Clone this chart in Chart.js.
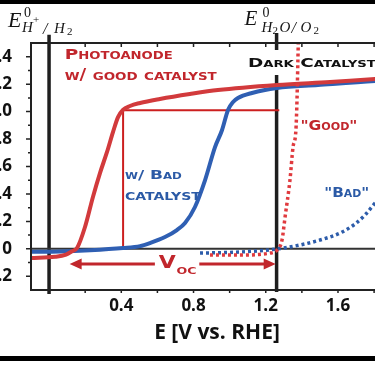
<!DOCTYPE html>
<html><head><meta charset="utf-8">
<script src="https://cdn.jsdelivr.net/npm/chart.js@4.4.1/dist/chart.umd.min.js"></script>
<style>
html,body{margin:0;padding:0;background:#fff;overflow:hidden}
#wrap{position:relative;width:375px;height:366px;overflow:hidden;background:#fff}
canvas{display:block}
</style>
</head><body>
<div id="wrap"><canvas id="c" width="403" height="366"></canvas></div>
<script>
// ---------- data ----------
const xTickValues = [0.4, 0.8, 1.2, 1.6];
const xTickLabels = ['0.4', '0.8', '1.2', '1.6'];
const yTickValues = [-0.2, 0, 0.2, 0.4, 0.6, 0.8, 1.0, 1.2, 1.4];
const yTickLabels = ['-0.2', '0', '0.2', '0.4', '0.6', '0.8', '1.0', '1.2', '1.4'];
const xTitle = 'E [V vs. RHE]';

// photoanode with good catalyst (red solid)
const goodX = [-0.100, 0.033, 0.094, 0.127, 0.155, 0.199, 0.243, 0.282, 0.321, 0.354, 0.382, 0.409, 0.448, 0.504, 0.614, 0.780, 0.935, 1.262, 1.556, 1.805, 1.960];
const goodY = [-0.067, -0.058, -0.042, -0.018, 0.006, 0.159, 0.378, 0.552, 0.706, 0.851, 0.960, 1.012, 1.041, 1.063, 1.092, 1.128, 1.157, 1.194, 1.216, 1.237, 1.247];
// photoanode with bad catalyst (blue solid)
const badX = [-0.100, 0.061, 0.227, 0.409, 0.504, 0.558, 0.642, 0.708, 0.753, 0.808, 0.864, 0.919, 0.958, 0.991, 1.019, 1.046, 1.124, 1.262, 1.489, 1.805, 1.960];
const badY = [-0.021, -0.019, -0.010, 0.006, 0.020, 0.042, 0.086, 0.137, 0.188, 0.305, 0.501, 0.741, 0.866, 1.012, 1.070, 1.099, 1.136, 1.172, 1.194, 1.223, 1.233];
// dark catalyst "Good" (red dotted)
const darkGoodX = [0.891, 1.057, 1.224, 1.268, 1.290, 1.307, 1.334, 1.351, 1.367, 1.373, 1.378, 1.381];
const darkGoodY = [-0.045, -0.045, -0.031, -0.001, 0.064, 0.232, 0.501, 0.741, 0.866, 1.084, 1.376, 1.550];
// dark catalyst "Bad" (blue dotted)
const darkBadX = [0.836, 1.057, 1.262, 1.390, 1.500, 1.611, 1.694, 1.749, 1.805, 1.888, 1.960];
const darkBadY = [-0.031, -0.023, -0.001, 0.028, 0.064, 0.115, 0.181, 0.246, 0.334, 0.470, 0.620];
// 1 mA/cm2 guide (thin red rectangle corner)
const guideX = [0.41, 0.41, 1.275];
const guideY = [0.0, 1.01, 1.01];
// reference potentials (thick black lines)
const eH2X = [0, 0];
const eH2Y = [-0.33, 1.56];
const eO2X = [1.26, 1.26, 1.26, 1.26, 1.26];
const eO2Y = [1.573, 1.449, null, 1.267, -0.315];
// zero-current line
const zeroX = [-0.1, 1.96];
const zeroY = [0, 0];

// annotation texts
const noteTexts = ['Photoanode', 'w/ good catalyst', 'Dark Catalyst', 'w/ Bad', 'catalyst', '"Good"', '"Bad"'];
const vocMain = 'V';
const vocSub = 'OC';

// ---------- helpers ----------
const pts = (xs, ys) => xs.map((x, i) => ({x: x, y: ys[i]}));
const RED_TXT = '#c1262c', BLUE_TXT = '#2b5aa6';
const SC_FAMILY = "'DejaVu Sans', 'Open Sans', sans-serif";
const SERIF = "'Liberation Serif', 'DejaVu Serif', serif";

function scText(ctx, str, x, yb, size, color, targetW) {
  ctx.save();
  ctx.font = 'small-caps bold ' + size + 'px ' + SC_FAMILY;
  try { ctx.fontVariantCaps = 'small-caps'; } catch (e) {}
  ctx.fillStyle = color; ctx.textAlign = 'left'; ctx.textBaseline = 'alphabetic';
  const w = ctx.measureText(str).width;
  const sx = targetW ? targetW / w : 1;
  ctx.translate(x, yb); ctx.scale(sx, 1);
  ctx.fillText(str, 0, 0);
  ctx.restore();
}
function plainText(ctx, str, x, yb, font, color, targetW) {
  ctx.save();
  ctx.font = font; ctx.fillStyle = color; ctx.textAlign = 'left'; ctx.textBaseline = 'alphabetic';
  const w = ctx.measureText(str).width;
  const sx = targetW ? targetW / w : 1;
  ctx.translate(x, yb); ctx.scale(sx, 1);
  ctx.fillText(str, 0, 0);
  ctx.restore();
}

const decor = {
  id: 'decor',
  afterDatasetsDraw(chart) {
    const {ctx, chartArea: a, scales: {x, y}} = chart;
    const X = v => x.getPixelForValue(v), Y = v => y.getPixelForValue(v);
    ctx.save();
    // frame
    ctx.strokeStyle = '#222'; ctx.lineWidth = 2;
    ctx.beginPath();
    ctx.moveTo(a.right + 2, a.top); ctx.lineTo(a.left, a.top); ctx.lineTo(a.left, a.bottom); ctx.lineTo(a.right + 2, a.bottom);
    ctx.stroke();
    // tick marks
    ctx.lineWidth = 1.5;
    ctx.beginPath();
    for (let k = -2; k <= 14; k++) {
      const v = k / 10, py = Y(v);
      const len = (k % 2 === 0) ? 5 : 3;
      ctx.moveTo(a.left, py); ctx.lineTo(a.left - len, py);
    }
    for (let k = 1; k <= 9; k++) {
      const px = X(k * 0.2);
      ctx.moveTo(px, a.top); ctx.lineTo(px, a.top + 4);
      ctx.moveTo(px, a.bottom); ctx.lineTo(px, a.bottom + 3);
    }
    ctx.stroke();
    ctx.restore();

    // annotation texts
    scText(ctx, noteTexts[0], X(0.087), Y(1.383), 14, RED_TXT, 108);
    scText(ctx, noteTexts[1], X(0.087), Y(1.230), 15, RED_TXT, 152);
    scText(ctx, noteTexts[2], X(1.101), Y(1.325), 12.5, '#111', 128);
    scText(ctx, noteTexts[3], X(0.42), Y(0.509), 13, BLUE_TXT, 57);
    scText(ctx, noteTexts[4], X(0.42), Y(0.356), 15, BLUE_TXT, 76);
    scText(ctx, noteTexts[5], X(1.392), Y(0.866), 14, RED_TXT, 57);
    scText(ctx, noteTexts[6], X(1.524), Y(0.378), 14, BLUE_TXT, 45);

    // V_OC arrow
    const ay = Y(-0.111);
    const xl = X(0.114), xr = X(1.255), g1 = X(0.586), g2 = X(0.832);
    ctx.save();
    ctx.strokeStyle = RED_TXT; ctx.fillStyle = RED_TXT; ctx.lineWidth = 3;
    ctx.beginPath();
    ctx.moveTo(xl + 8, ay); ctx.lineTo(g1, ay);
    ctx.moveTo(g2, ay); ctx.lineTo(xr - 8, ay);
    ctx.stroke();
    ctx.beginPath();
    ctx.moveTo(xl, ay); ctx.lineTo(xl + 12, ay - 5.5); ctx.lineTo(xl + 12, ay + 5.5); ctx.closePath();
    ctx.moveTo(xr, ay); ctx.lineTo(xr - 12, ay - 5.5); ctx.lineTo(xr - 12, ay + 5.5); ctx.closePath();
    ctx.fill();
    ctx.restore();
    plainText(ctx, vocMain, X(0.608), Y(-0.140), 'bold 18px ' + SC_FAMILY, RED_TXT, 17);
    plainText(ctx, vocSub, X(0.706), Y(-0.184), 'bold 9.5px ' + SC_FAMILY, RED_TXT, 20);

    // reference potential labels (above the frame)
    const p0 = X(0), p1 = X(1.26);
    const it = s => 'italic ' + s + 'px ' + SERIF, up = s => s + 'px ' + SERIF;
    const ink = '#151515';
    plainText(ctx, 'E', p0 - 41, 27, it(22), ink);
    plainText(ctx, '0', p0 - 25, 17, up(14), ink);
    plainText(ctx, 'H', p0 - 27, 32, it(15), ink);
    plainText(ctx, '+', p0 - 16, 23, up(11), ink);
    plainText(ctx, '/', p0 - 6, 34, it(16), ink);
    plainText(ctx, 'H', p0 + 5, 33, it(15), ink);
    plainText(ctx, '2', p0 + 18, 35, up(11), ink);

    plainText(ctx, 'E', p1 - 32, 25, it(21), ink);
    plainText(ctx, '0', p1 - 14, 17, up(14), ink);
    plainText(ctx, 'H', p1 - 15, 32, it(15), ink);
    plainText(ctx, '2', p1 - 4, 34, up(11), ink);
    plainText(ctx, 'O', p1 + 3, 32, it(15), ink);
    plainText(ctx, '/', p1 + 15, 33, it(16), ink);
    plainText(ctx, 'O', p1 + 24, 32, it(15), ink);
    plainText(ctx, '2', p1 + 37, 34, up(11), ink);

    // slide frame bars
    ctx.save();
    ctx.fillStyle = '#000';
    ctx.fillRect(0, 0, chart.width, 4);
    ctx.fillRect(0, 356, chart.width, 5);
    ctx.restore();
  }
};

const lineDs = (label, xs, ys, color, width, extra) => Object.assign({
  label: label, data: pts(xs, ys), borderColor: color, backgroundColor: color,
  borderWidth: width, pointRadius: 0, fill: false, cubicInterpolationMode: 'monotone'
}, extra || {});

const tickFont = {family: "'Open Sans', 'Liberation Sans', sans-serif", weight: 'bold', size: 17};

new Chart(document.getElementById('c'), {
  type: 'line',
  data: {
    datasets: [
      lineDs('Dark "Good"', darkGoodX, darkGoodY, '#e03a3e', 3.5, {borderDash: [3, 3]}),
      lineDs('Dark "Bad"', darkBadX, darkBadY, '#2d5caa', 3.5, {borderDash: [3, 3]}),
      lineDs('Photoanode w/ good catalyst', goodX, goodY, '#d23a3c', 4),
      lineDs('w/ bad catalyst', badX, badY, '#2f5fb3', 4),
      lineDs('guide', guideX, guideY, '#cc1f1f', 2, {cubicInterpolationMode: 'default', tension: 0}),
      lineDs('zero', zeroX, zeroY, '#333', 2, {tension: 0}),
      lineDs('E H+/H2', eH2X, eH2Y, '#1e1e1e', 3.5, {tension: 0, clip: false}),
      lineDs('E H2O/O2', eO2X, eO2Y, '#1e1e1e', 3.5, {tension: 0, clip: false, spanGaps: false})
    ]
  },
  options: {
    responsive: false, animation: false, events: [],
    layout: {padding: {left: 0, right: 0, top: 43, bottom: 0}},
    plugins: {legend: {display: false}, tooltip: {enabled: false}},
    scales: {
      x: {
        type: 'linear', position: 'bottom', min: -0.1, max: 1.96,
        grid: {display: false, drawTicks: false}, border: {display: false},
        afterBuildTicks: s => { s.ticks = xTickValues.map(v => ({value: v})); },
        afterFit: s => { s.height = 76; },
        ticks: {font: tickFont, color: '#111', padding: 6, maxRotation: 0, autoSkip: false,
                callback: (v, i) => xTickLabels[i]},
        title: {display: true, text: xTitle, color: '#111',
                font: {family: "'Open Sans', 'Liberation Sans', sans-serif", weight: 'bold', size: 21},
                padding: {top: 0, bottom: 20}}
      },
      y: {
        type: 'linear', position: 'left', min: -0.3, max: 1.5,
        grid: {display: false, drawTicks: false}, border: {display: false},
        afterBuildTicks: s => { s.ticks = yTickValues.map(v => ({value: v})); },
        afterFit: s => { s.width = 31; },
        ticks: {font: tickFont, color: '#111', padding: 19, autoSkip: false,
                callback: (v, i) => yTickLabels[i]}
      }
    }
  },
  plugins: [decor]
});
</script>
</body></html>
